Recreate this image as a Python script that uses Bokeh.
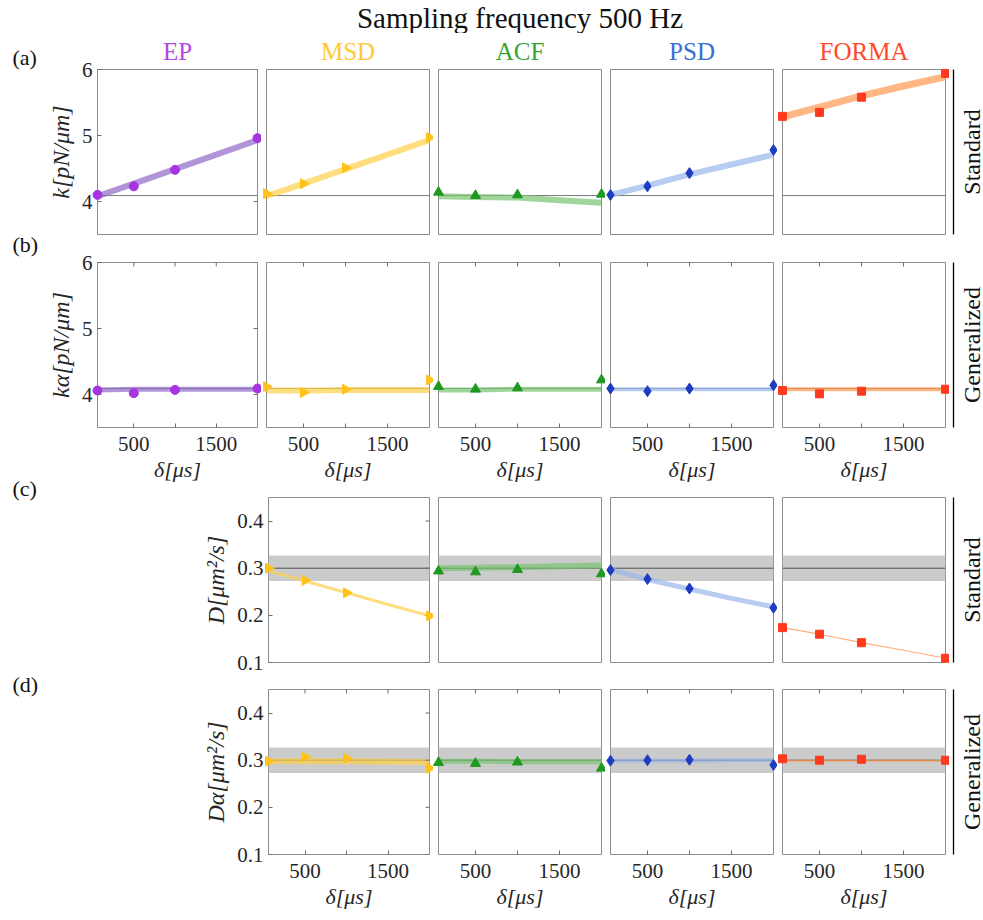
import numpy as np
from bokeh.plotting import figure
from bokeh.models import Range1d, LinearAxis, FixedTicker, Span, BoxAnnotation, Spacer
from bokeh.layouts import column, row
from bokeh.embed import file_html
from bokeh.resources import INLINE
from bokeh.core.properties import value

# ---------------- data ----------------
TITLE = "Sampling frequency 500 Hz"
METHODS = ["EP", "MSD", "ACF", "PSD", "FORMA"]
ROW_TAGS = ["(a)", "(b)", "(c)", "(d)"]
SIDE_LABELS = ["Standard", "Generalized", "Standard", "Generalized"]
Y_LABELS = ["k[pN/μm]", "kα[pN/μm]", "D[μm²/s]", "Dα[μm²/s]"]
X_LABEL = "δ[μs]"

x_ticks = [500, 1000, 1500]
k_ticks = [4, 5, 6]
d_ticks = [0.1, 0.2, 0.3, 0.4]

band_delta = [60, 500, 1000, 1500, 2000]     # δ [μs] for the estimate curves
marker_delta = [60, 500, 1000, 2000]         # δ [μs] for the markers

K_TRUE = 4.09
D_TRUE = 0.30
D_BAND_LO = 0.273
D_BAND_HI = 0.327

# (a) standard stiffness k
k_std_EP_band = [4.08, 4.27, 4.49, 4.71, 4.93]
k_std_EP_mark = [4.10, 4.23, 4.48, 4.96]
k_std_MSD_band = [4.08, 4.27, 4.49, 4.71, 4.93]
k_std_MSD_mark = [4.12, 4.27, 4.51, 4.97]
k_std_ACF_band = [4.08, 4.07, 4.06, 4.02, 3.98]
k_std_ACF_mark = [4.14, 4.09, 4.10, 4.11]
k_std_PSD_band = [4.10, 4.24, 4.41, 4.56, 4.71]
k_std_PSD_mark = [4.10, 4.23, 4.43, 4.78]
k_std_FORMA_band = [5.28, 5.43, 5.60, 5.75, 5.89]
k_std_FORMA_mark = [5.29, 5.35, 5.58, 5.94]

# (b) generalized stiffness k_alpha
k_gen_EP_band = [4.07, 4.08, 4.08, 4.08, 4.08]
k_gen_EP_mark = [4.06, 4.02, 4.07, 4.09]
k_gen_MSD_band = [4.06, 4.06, 4.07, 4.07, 4.07]
k_gen_MSD_mark = [4.12, 4.03, 4.08, 4.22]
k_gen_ACF_band = [4.07, 4.07, 4.08, 4.08, 4.08]
k_gen_ACF_mark = [4.12, 4.08, 4.10, 4.22]
k_gen_PSD_band = [4.08, 4.08, 4.08, 4.08, 4.08]
k_gen_PSD_mark = [4.09, 4.05, 4.09, 4.14]
k_gen_FORMA_band = [4.08, 4.08, 4.08, 4.08, 4.08]
k_gen_FORMA_mark = [4.06, 4.01, 4.05, 4.08]

# (c) standard diffusion D
d_std_MSD_band = [0.295, 0.273, 0.248, 0.223, 0.199]
d_std_MSD_mark = [0.300, 0.274, 0.248, 0.199]
d_std_ACF_band = [0.300, 0.301, 0.302, 0.304, 0.306]
d_std_ACF_mark = [0.294, 0.292, 0.297, 0.288]
d_std_PSD_band = [0.297, 0.276, 0.256, 0.236, 0.218]
d_std_PSD_mark = [0.296, 0.277, 0.257, 0.216]
d_std_FORMA_band = [0.174, 0.160, 0.142, 0.126, 0.109]
d_std_FORMA_mark = [0.174, 0.160, 0.142, 0.109]

# (d) generalized diffusion D_alpha
d_gen_MSD_band = [0.298, 0.298, 0.298, 0.297, 0.296]
d_gen_MSD_mark = [0.298, 0.307, 0.304, 0.283]
d_gen_ACF_band = [0.298, 0.298, 0.297, 0.297, 0.297]
d_gen_ACF_mark = [0.295, 0.293, 0.296, 0.283]
d_gen_PSD_band = [0.299, 0.299, 0.299, 0.300, 0.300]
d_gen_PSD_mark = [0.299, 0.300, 0.301, 0.290]
d_gen_FORMA_band = [0.299, 0.299, 0.299, 0.299, 0.299]
d_gen_FORMA_mark = [0.303, 0.300, 0.302, 0.300]

# ---------------- styling ----------------
FONT = "Liberation Serif"
HEADER_COLORS = ["#b347e6", "#ffc933", "#35a535", "#3a6fd0", "#ff4a2a"]
MARKER_COLORS = ["#a634e0", "#ffc21a", "#1f991f", "#1e3cc0", "#ff3a1e"]
BAND_COLORS = ["#9068c8", "#ffd04a", "#78c472", "#98b6ea", "#ff9a50"]
MARKERS = ["circle", "triangle", "triangle", "diamond", "square"]
MARKER_ANGLES = [0.0, -np.pi / 2, 0.0, 0.0, 0.0]
MARKER_SIZES = [9, 10, 10, 11, 8]
LINE_WIDTHS = [[6, 6, 6, 6, 7], [5, 6, 5, 4, 4], [0, 3, 6, 5, 1.2], [0, 6, 5, 4, 2]]
TICK_COLOR = "#6e6e6e"
TEXT_COLOR = "#262626"

DATA = [
    [(k_std_EP_band, k_std_EP_mark), (k_std_MSD_band, k_std_MSD_mark), (k_std_ACF_band, k_std_ACF_mark),
     (k_std_PSD_band, k_std_PSD_mark), (k_std_FORMA_band, k_std_FORMA_mark)],
    [(k_gen_EP_band, k_gen_EP_mark), (k_gen_MSD_band, k_gen_MSD_mark), (k_gen_ACF_band, k_gen_ACF_mark),
     (k_gen_PSD_band, k_gen_PSD_mark), (k_gen_FORMA_band, k_gen_FORMA_mark)],
    [None, (d_std_MSD_band, d_std_MSD_mark), (d_std_ACF_band, d_std_ACF_mark),
     (d_std_PSD_band, d_std_PSD_mark), (d_std_FORMA_band, d_std_FORMA_mark)],
    [None, (d_gen_MSD_band, d_gen_MSD_mark), (d_gen_ACF_band, d_gen_ACF_mark),
     (d_gen_PSD_band, d_gen_PSD_mark), (d_gen_FORMA_band, d_gen_FORMA_mark)],
]

# ---------------- geometry (pixels) ----------------
FW, FH = 163, 165
HEADER_H = 33
LEFT_W = 44
RIGHT_W = 34
ROW_TB = [(36, 14), (14, 58), (12, 14), (13, 58)]
Y_RANGES = [(3.5, 6.0), (3.5, 6.0), (0.1, 0.45), (0.1, 0.45)]
X_RANGE = (60, 2000)
TOTAL_W = LEFT_W + 905 + RIGHT_W
FRAME_X0 = [94, 266, 438, 610, 782]


def text_fig(w, h):
    f = figure(width=w, height=h, x_range=Range1d(0, w), y_range=Range1d(0, h),
               x_axis_location=None, y_axis_location=None, toolbar_location=None,
               output_backend="svg", min_border=0)
    f.min_border_left = f.min_border_right = f.min_border_top = f.min_border_bottom = 0
    f.outline_line_color = None
    f.grid.visible = False
    return f


def style_axis(ax, label_standoff):
    ax.axis_line_color = None
    ax.major_tick_in = 4
    ax.major_tick_out = 0
    ax.major_tick_line_color = TICK_COLOR
    ax.minor_tick_line_color = None
    ax.major_label_standoff = label_standoff
    ax.major_label_text_font = FONT
    ax.major_label_text_font_size = "21px"
    ax.major_label_text_color = TEXT_COLOR
    ax.axis_label_text_font = FONT
    ax.axis_label_text_font_style = "italic"
    ax.axis_label_text_color = TEXT_COLOR


def make_panel(ri, ci):
    top, bottom = ROW_TB[ri]
    has_y = (ri < 2 and ci == 0) or (ri >= 2 and ci == 1)
    if has_y:
        left = 50 if ri < 2 else 66
    else:
        left = 5
    right = 4
    p = figure(width=left + FW + right, height=top + FH + bottom,
               x_range=Range1d(*X_RANGE), y_range=Range1d(*Y_RANGES[ri]),
               x_axis_location=None, y_axis_location=None, toolbar_location=None,
               output_backend="svg", min_border_left=left, min_border_right=right,
               min_border_top=top, min_border_bottom=bottom)
    p.grid.visible = False
    p.outline_line_color = "#8c8c8c"
    p.outline_line_width = 1
    p.background_fill_color = "white"
    p.border_fill_color = "white"

    # column header above the top row (drawn unclipped, above the frame)
    if ri == 0:
        p.text(x=[(X_RANGE[0] + X_RANGE[1]) / 2], y=[Y_RANGES[ri][1]], y_offset=-18,
               text=[METHODS[ci]], text_color=HEADER_COLORS[ci], text_font=value(FONT),
               text_font_size="25px", text_align="center", text_baseline="middle",
               level="annotation")

    # reference value(s)
    if ri < 2:
        p.add_layout(Span(location=K_TRUE, dimension="width", line_color="#7a7a7a",
                          line_width=1, level="underlay"))
    else:
        p.add_layout(BoxAnnotation(bottom=D_BAND_LO, top=D_BAND_HI, fill_color="#cbcbcb",
                                   fill_alpha=1.0, line_color=None, level="underlay"))
        p.add_layout(Span(location=D_TRUE, dimension="width", line_color="#505050",
                          line_width=1, level="underlay"))

    band, mark = DATA[ri][ci]
    lw = LINE_WIDTHS[ri][ci]
    if ri == 2 and ci == 4:
        p.line(band_delta, band, line_color="#ffb07a", line_width=lw, line_alpha=1.0)
    else:
        p.line(band_delta, band, line_color=BAND_COLORS[ci], line_width=lw, line_alpha=0.7)
    p.scatter(marker_delta, mark, marker=MARKERS[ci], angle=MARKER_ANGLES[ci],
              size=MARKER_SIZES[ci], fill_color=MARKER_COLORS[ci], line_color=MARKER_COLORS[ci],
              level="annotation")

    if has_y:
        yt = k_ticks if ri < 2 else d_ticks
        yax = LinearAxis(ticker=FixedTicker(ticks=yt), axis_label=Y_LABELS[ri])
        style_axis(yax, 5)
        yax.axis_label_text_font_size = "24px"
        yax.axis_label_standoff = 5
        p.add_layout(yax, "left")
        # mirrored ticks on the right edge
        p.scatter([X_RANGE[1]] * len(yt), yt, marker="dash", size=8, line_color=TICK_COLOR,
                  line_width=1)

    if ri in (1, 3):
        xax = LinearAxis(ticker=FixedTicker(ticks=x_ticks), axis_label=X_LABEL)
        style_axis(xax, 9)
        xax.major_label_overrides = {1000: ""}
        xax.axis_label_text_font_size = "22px"
        xax.axis_label_standoff = 3
        p.add_layout(xax, "below")
        # mirrored ticks on the top edge
        ytop = Y_RANGES[ri][1]
        p.scatter(x_ticks, [ytop] * len(x_ticks), marker="dash", angle=np.pi / 2, size=8,
                  line_color=TICK_COLOR, line_width=1)
    return p


# ---------------- header (title) ----------------
header = text_fig(TOTAL_W, HEADER_H)
header.text(x=[(FRAME_X0[0] + FRAME_X0[-1] + FW) / 2], y=[HEADER_H - 17], text=[TITLE],
            text_font=value(FONT), text_font_size="29px", text_align="center",
            text_baseline="middle", text_color="#111111")

# ---------------- panels ----------------
panel_rows = []
for ri in range(4):
    figs = []
    if ri >= 2:
        figs.append(Spacer(width=156, height=sum(ROW_TB[ri]) + FH))
    for ci in range(5):
        if DATA[ri][ci] is None:
            continue
        figs.append(make_panel(ri, ci))
    panel_rows.append(row(figs, spacing=0))
body_h = sum(sum(tb) + FH for tb in ROW_TB)

# frame tops (relative to body top)
frame_tops = []
acc = 0
for tb in ROW_TB:
    frame_tops.append(acc + tb[0])
    acc += sum(tb) + FH

# ---------------- left labels (a)-(d) ----------------
left = text_fig(LEFT_W, body_h)
tag_centers = [frame_tops[0] - 12, frame_tops[1] - 18, frame_tops[2] - 9, frame_tops[3] - 5]
left.text(x=[12] * 4, y=[body_h - c for c in tag_centers], text=ROW_TAGS,
          text_font=value(FONT), text_font_size="22px", text_align="left",
          text_baseline="middle", text_color="#111111")

# ---------------- right labels ----------------
right = text_fig(RIGHT_W, body_h)
right.segment(x0=[4] * 4, x1=[4] * 4, y0=[body_h - t for t in frame_tops],
              y1=[body_h - t - FH for t in frame_tops], line_color="#000000", line_width=1.3)
right.text(x=[22] * 4, y=[body_h - t - FH / 2 for t in frame_tops], text=SIDE_LABELS,
           angle=np.pi / 2, text_font=value(FONT), text_font_size="24px",
           text_align="center", text_baseline="middle", text_color="#111111")

layout = column(header, row(left, column(panel_rows, spacing=0), right, spacing=0), spacing=0)

open("out.html", "w").write(file_html(layout, INLINE))
